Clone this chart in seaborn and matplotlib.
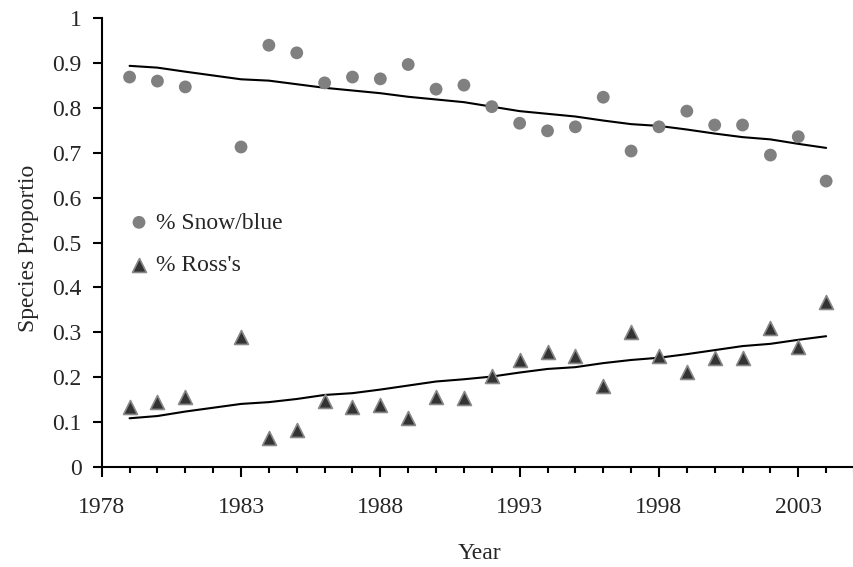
import matplotlib
matplotlib.use('Agg')
import matplotlib.pyplot as plt
import seaborn as sns
import pandas as pd
from matplotlib.ticker import MultipleLocator

# datos (1982 no tiene dato)
years = [1979, 1980, 1981, 1983, 1984, 1985, 1986, 1987, 1988, 1989, 1990, 1991, 1992,
         1993, 1994, 1995, 1996, 1997, 1998, 1999, 2000, 2001, 2002, 2003, 2004]
snow = [0.869, 0.860, 0.847, 0.713, 0.940, 0.923, 0.856, 0.869, 0.865, 0.897, 0.842, 0.851, 0.803,
        0.766, 0.749, 0.758, 0.824, 0.704, 0.758, 0.793, 0.762, 0.762, 0.695, 0.736, 0.637]
ross = [0.134, 0.144, 0.156, 0.290, 0.063, 0.082, 0.147, 0.134, 0.138, 0.108, 0.156, 0.153, 0.202,
        0.237, 0.255, 0.247, 0.179, 0.300, 0.246, 0.211, 0.242, 0.242, 0.309, 0.267, 0.367]
snow_trend = [0.894, 0.890, 0.881, 0.864, 0.861, 0.853, 0.845, 0.839, 0.833, 0.825, 0.819, 0.813, 0.803,
              0.793, 0.787, 0.781, 0.772, 0.764, 0.760, 0.752, 0.743, 0.735, 0.730, 0.720, 0.711]
ross_trend = [0.108, 0.113, 0.123, 0.140, 0.144, 0.151, 0.160, 0.164, 0.172, 0.181, 0.190, 0.195, 0.201,
              0.210, 0.218, 0.222, 0.231, 0.238, 0.243, 0.251, 0.260, 0.269, 0.274, 0.283, 0.291]

# ejes
x_ticks = [1978, 1983, 1988, 1993, 1998, 2003]
y_ticks = [0, 0.1, 0.2, 0.3, 0.4, 0.5, 0.6, 0.7, 0.8, 0.9, 1]
y_labels = ['0', '0.1', '0.2', '0.3', '0.4', '0.5', '0.6', '0.7', '0.8', '0.9', '1']

df = pd.DataFrame({'Year': years, 'snow': snow, 'ross': ross,
                   'snow_trend': snow_trend, 'ross_trend': ross_trend})

sns.set_style('white')
plt.rcParams['font.family'] = ['Liberation Serif', 'DejaVu Serif']

fig = plt.figure(figsize=(8.54, 5.67), dpi=100)
ax = fig.add_axes([0.1191, 0.1769, 0.8809, 0.7908])

sns.lineplot(x='Year', y='snow_trend', data=df, color='black', linewidth=1.5, ax=ax, legend=False)
sns.lineplot(x='Year', y='ross_trend', data=df, color='black', linewidth=1.5, ax=ax, legend=False)
sns.scatterplot(x='Year', y='snow', data=df, marker='o', s=85, color='#808080',
                edgecolor='none', label='% Snow/blue', ax=ax, zorder=3)
sns.scatterplot(x='Year', y='ross', data=df, marker='^', s=100, color='#333333',
                edgecolor='#888888', linewidth=1.2, label="% Ross's", ax=ax, zorder=3)

ax.set_xlim(1978, 2005)
ax.set_ylim(0, 1)
ax.set_xticks(x_ticks)
ax.set_xticklabels([str(y) for y in x_ticks])
ax.xaxis.set_minor_locator(MultipleLocator(1))
ax.set_yticks(y_ticks)
ax.set_yticklabels(y_labels)

for side in ['top', 'right']:
    ax.spines[side].set_visible(False)
for side in ['left', 'bottom']:
    ax.spines[side].set_color('black')
    ax.spines[side].set_linewidth(1.5)

ax.tick_params(axis='x', which='major', direction='out', length=7, width=1.5,
               color='black', bottom=True, labelsize=17, pad=15)
ax.tick_params(axis='x', which='minor', direction='out', length=4.5, width=1.5,
               color='black', bottom=True)
ax.tick_params(axis='y', which='major', direction='out', length=6.5, width=1.5,
               color='black', left=True, labelsize=17, pad=8)

ax.set_xlabel('Year', fontsize=17)
ax.set_ylabel('Species Proportio', fontsize=17)
ax.xaxis.set_label_coords(0.502, -0.17)
ax.yaxis.set_label_coords(-0.084, 0.488)

leg = ax.legend(loc='upper left', bbox_to_anchor=(0.037, 0.568), frameon=False, fontsize=17,
                handlelength=0.8, handletextpad=0.3, labelspacing=0.9, markerscale=1.0,
                borderaxespad=0, borderpad=0)

fig.savefig('out.png', dpi=100)
